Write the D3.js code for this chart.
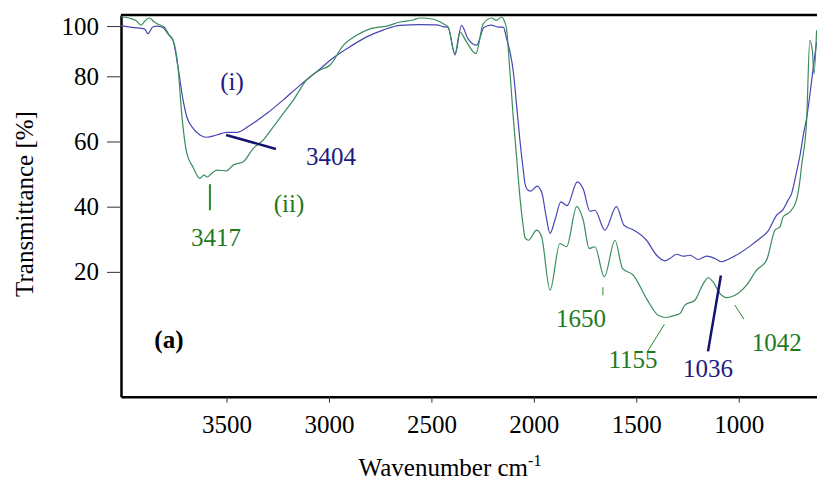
<!DOCTYPE html>
<html>
<head>
<meta charset="utf-8">
<script src="https://cdn.jsdelivr.net/npm/d3@7"></script>
<style>
  body { margin: 0; background: #fff; }
  svg { font-family: "Liberation Serif", "Times New Roman", serif; }
</style>
</head>
<body>
<div id="chart"></div>
<script>
/* CONSTANTS */
const width = 817,
  height = 480,
  margin = { top: 15, bottom: 83.3, left: 121, right: 0 };

/* DATA */
// sample (i) - blue
const blueWn = [4015, 3950, 3901, 3883, 3860, 3838, 3811, 3785, 3760, 3737, 3712, 3694, 3664, 3630, 3597, 3548,
  3500, 3450, 3385, 3304, 3224, 3141, 3060, 2980, 2897, 2816, 2736, 2653, 2556, 2474, 2444, 2419, 2385, 2353,
  2322, 2279, 2244, 2209, 2174, 2149, 2133, 2117, 2100, 2084, 2068, 2052, 2043, 2027, 2015, 1995, 1985, 1970,
  1960, 1940, 1921, 1897, 1868, 1838, 1788, 1759, 1726, 1702, 1653, 1597, 1560, 1512, 1450, 1401, 1360, 1336,
  1303, 1271, 1238, 1198, 1157, 1116, 1084, 1043, 994, 945, 896, 856, 815, 783, 759, 742, 718, 701, 685, 669,
  653, 637, 620];
const blueT = [100.2, 99.4, 98.9, 97.0, 99.6, 100.0, 99.4, 96.8, 94.0, 83.8, 72.7, 67.6, 64.1, 62.0, 61.3, 62.0,
  62.8, 62.8, 65.0, 68.6, 72.7, 77.3, 81.8, 87.3, 91.8, 95.7, 98.4, 100.3, 100.6, 100.5, 99.8, 99.6, 88.5, 100.3,
  95.0, 92.4, 99.4, 100.4, 99.6, 99.6, 95.0, 90.0, 81.7, 71.0, 60.4, 51.5, 47.0, 45.0, 44.8, 45.8, 46.3, 45.5,
  44.1, 37.0, 31.8, 35.9, 41.5, 40.3, 47.6, 45.4, 38.6, 38.9, 32.8, 40.0, 34.3, 32.8, 29.7, 25.1, 23.4, 24.1,
  25.4, 24.8, 25.1, 23.8, 24.8, 24.1, 23.1, 24.1, 25.8, 27.9, 30.3, 32.6, 37.4, 39.2, 42.0, 44.0, 50.6, 55.7, 61.9, 67.0,
  74.2, 83.0, 93.6];

// sample (ii) - green
const greenWn = [4015, 3971, 3942, 3917, 3898, 3877, 3852, 3828, 3804, 3779, 3761, 3737, 3719, 3694, 3664, 3630,
  3610, 3595, 3576, 3548, 3500, 3467, 3418, 3369, 3321, 3272, 3223, 3174, 3109, 3044, 2995, 2930, 2865, 2800,
  2718, 2653, 2590, 2556, 2491, 2442, 2418, 2385, 2361, 2328, 2283, 2247, 2206, 2182, 2157, 2149, 2133, 2125,
  2100, 2084, 2068, 2052, 2043, 2027, 1986, 1962, 1921, 1873, 1840, 1791, 1759, 1730, 1702, 1656, 1604, 1567,
  1515, 1450, 1393, 1352, 1328, 1287, 1263, 1214, 1173, 1149, 1125, 1092, 1059, 1018, 962, 913, 864, 823, 799,
  783, 750, 718, 701, 693, 669, 653, 640, 633, 620];
const greenT = [103.7, 103.1, 102.2, 100.4, 102.0, 103.2, 101.6, 100.5, 99.6, 96.3, 94.4, 83.8, 68.7, 56.4, 52.2, 48.7,
  49.7, 49.1, 50.0, 51.2, 51.0, 52.8, 53.8, 57.9, 60.4, 64.5, 68.6, 72.7, 78.9, 82.5, 84.4, 92.3, 96.3, 98.9,
  100.0, 101.6, 102.4, 103.2, 102.7, 100.9, 99.6, 89.0, 97.6, 93.6, 89.0, 100.9, 103.2, 102.3, 103.6, 102.9, 98.9, 91.0,
  67.0, 55.0, 43.0, 34.0, 30.5, 29.7, 32.8, 30.7, 14.4, 28.7, 27.7, 40.0, 35.9, 27.2, 27.7, 18.5, 29.7, 21.0,
  19.0, 11.8, 6.7, 6.0, 6.4, 7.2, 9.8, 11.3, 16.4, 18.2, 16.9, 13.4, 12.1, 12.8, 15.9, 20.5, 23.6, 32.8, 33.8,
  36.9, 38.4, 42.0, 48.2, 52.7, 66.0, 94.3, 89.7, 81.0, 98.3];

const xTicks = [3500, 3000, 2500, 2000, 1500, 1000];
const yTicks = [20, 40, 60, 80, 100];

// peak labels: text, wavenumber / %T of label, pointer line ends
const labelText = ["3404", "3417", "1650", "1155", "1036", "1042"];
const labelWn = [2990, 3551, 1770, 1516, 1150, 814];
const labelT = [52.8, 27.9, 3.0, -9.6, -12.4, -4.4];
const labelSeries = ["i", "ii", "ii", "ii", "i", "ii"];
const pointerFrom = [[3502, 62.0], [3581, 46.9], [1663, 15.3], [1448, -4.7], [1087, 18.9], [1019, 9.8]];
const pointerTo = [[3259, 57.7], [3581, 38.9], [1663, 12.8], [1363, 3.9], [1150, -4.4], [975, 5.5]];

const colors = { i: "#4646b4", ii: "#3b8c5c" };
const textColors = { i: "#1c1c80", ii: "#1f7a1f" };

/* SCALES */
const xScale = d3.scaleLinear()
  .domain([4015, 618])
  .range([margin.left, width - margin.right]);

// the printed 100 tick sits closer to 80 than the others, so the top part is compressed
const yScale = d3.scaleLinear()
  .domain([-18.3, 80, 104.4])
  .range([height - margin.bottom, 76.3, margin.top]);

const svg = d3.select("#chart")
  .append("svg")
  .attr("width", width)
  .attr("height", height);

/* AXES */
const xAxis = d3.axisBottom(xScale)
  .tickValues(xTicks)
  .tickFormat(d3.format("d"))
  .tickSize(6)
  .tickSizeOuter(0)
  .tickPadding(13);

const yAxis = d3.axisLeft(yScale)
  .tickValues(yTicks)
  .tickFormat(d3.format("d"))
  .tickSize(14)
  .tickSizeOuter(0)
  .tickPadding(8);

const gx = svg.append("g")
  .attr("transform", `translate(0, ${height - margin.bottom})`)
  .call(xAxis);

const gy = svg.append("g")
  .attr("transform", `translate(${margin.left}, 0)`)
  .call(yAxis);

[gx, gy].forEach(g => {
  g.attr("font-family", "Liberation Serif, serif");
  g.select(".domain").attr("stroke", "#000").attr("stroke-width", 2.5);
  g.selectAll(".tick line").attr("stroke", "#333").attr("stroke-width", 1);
  g.selectAll(".tick text")
    .attr("fill", "#000")
    .attr("font-size", 25);
});

// top border
svg.append("line")
  .attr("x1", margin.left)
  .attr("x2", width)
  .attr("y1", margin.top)
  .attr("y2", margin.top)
  .attr("stroke", "#000")
  .attr("stroke-width", 2.5);

/* LINES */
const line = d3.line()
  .x(d => xScale(d[0]))
  .y(d => yScale(d[1]))
  .curve(d3.curveMonotoneX);

const series = [
  { key: "i", data: d3.zip(blueWn, blueT) },
  { key: "ii", data: d3.zip(greenWn, greenT) }
];

svg.selectAll("path.spectrum")
  .data(series)
  .join("path")
  .attr("class", "spectrum")
  .attr("fill", "none")
  .attr("stroke", d => colors[d.key])
  .attr("stroke-width", 1.2)
  .attr("d", d => line(d.data));

/* ANNOTATIONS */
svg.selectAll("line.pointer")
  .data(labelText)
  .join("line")
  .attr("class", "pointer")
  .attr("x1", (d, i) => xScale(pointerFrom[i][0]))
  .attr("y1", (d, i) => yScale(pointerFrom[i][1]))
  .attr("x2", (d, i) => xScale(pointerTo[i][0]))
  .attr("y2", (d, i) => yScale(pointerTo[i][1]))
  .attr("stroke", (d, i) => labelSeries[i] == "i" ? "#14146e" : "#2a8a2a")
  .attr("stroke-width", (d, i) => labelSeries[i] == "i" ? 2.5 : (i == 1 ? 2 : 1));

svg.selectAll("text.peak")
  .data(labelText)
  .join("text")
  .attr("class", "peak")
  .attr("x", (d, i) => xScale(labelWn[i]))
  .attr("y", (d, i) => yScale(labelT[i]))
  .attr("text-anchor", "middle")
  .attr("font-size", 25)
  .attr("fill", (d, i) => textColors[labelSeries[i]])
  .text(d => d);

svg.append("text")
  .attr("x", xScale(3473))
  .attr("y", yScale(75.8))
  .attr("text-anchor", "middle")
  .attr("font-size", 25)
  .attr("fill", textColors.i)
  .text("(i)");

svg.append("text")
  .attr("x", xScale(3195))
  .attr("y", yScale(38.3))
  .attr("text-anchor", "middle")
  .attr("font-size", 25)
  .attr("fill", textColors.ii)
  .text("(ii)");

svg.append("text")
  .attr("x", xScale(3781))
  .attr("y", yScale(-3.4))
  .attr("text-anchor", "middle")
  .attr("font-size", 25)
  .attr("font-weight", "bold")
  .attr("fill", "#000")
  .text("(a)");

/* AXIS TITLES */
const xt = svg.append("text")
  .attr("x", 450)
  .attr("y", 476)
  .attr("text-anchor", "middle")
  .attr("font-size", 25)
  .attr("fill", "#000");
xt.append("tspan").text("Wavenumber cm");
xt.append("tspan").attr("font-size", 16).attr("dy", -10).text("-1");

svg.append("text")
  .attr("transform", "translate(33, 204) rotate(-90)")
  .attr("text-anchor", "middle")
  .attr("font-size", 25)
  .attr("fill", "#000")
  .text("Transmittance [%]");
</script>
</body>
</html>
